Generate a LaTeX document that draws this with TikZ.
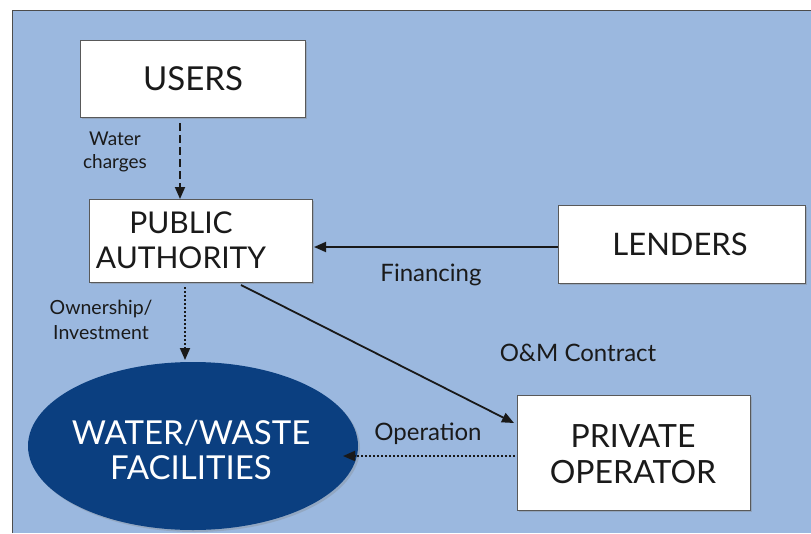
\documentclass[tikz,border=0pt]{standalone}
\usepackage{fontspec}
\setmainfont{Lato}
\usetikzlibrary{arrows.meta,shadows,shapes.geometric}
\definecolor{bgblue}{HTML}{9BB8DF}
\definecolor{navy}{HTML}{0B3F80}
\definecolor{txt}{HTML}{1A1A1A}
\begin{document}
\begin{tikzpicture}[x=1pt,y=-1pt,
  box/.style={draw=gray!70!black,line width=0.8pt,fill=white,inner sep=0pt,
     drop shadow={shadow xshift=2pt,shadow yshift=-2pt,opacity=0.35}},
  lbl/.style={text=txt,font=\fontsize{19}{23}\selectfont,align=center,inner sep=0pt},
  biglbl/.style={lbl,font=\fontsize{24}{28}\selectfont},
  arr/.style={-{Triangle[length=12pt,width=10pt]},line width=1.8pt,draw=black!90}]
\useasboundingbox (0,0) rectangle (811,533);
\fill[white] (0,0) rectangle (811,533);
\fill[bgblue] (12,10) rectangle (811,533);
\draw[gray!60!black,line width=1pt] (12,533) -- (12,10) -- (811,10);
% boxes
\node[box,minimum width=225pt,minimum height=77pt] (users) at (192.5,78.5) {};
\node[lbl,font=\fontsize{33}{36}\selectfont] (userst) at (193,79) {USERS};
\node[box,minimum width=223pt,minimum height=83pt] (pub) at (200.5,240.5) {};
\node[lbl,font=\fontsize{30}{35}\selectfont] (pubt) at (181,240) {PUBLIC\\AUTHORITY};
\node[box,minimum width=247pt,minimum height=78pt] (lend) at (681.5,244) {};
\node[lbl,font=\fontsize{31}{35}\selectfont] (lendt) at (680,244) {LENDERS};
\node[box,minimum width=233pt,minimum height=115pt] (priv) at (633.5,452.5) {};
\node[lbl,font=\fontsize{32}{36}\selectfont] (privt) at (633,454) {PRIVATE\\OPERATOR};
\node[draw=none,fill=navy,ellipse,minimum width=330pt,minimum height=168pt,inner sep=0pt,
  drop shadow={shadow xshift=2pt,shadow yshift=-2pt,opacity=0.3}] (fac) at (193,446) {};
\node[lbl,text=white,font=\fontsize{33}{35}\selectfont] (fact) at (191,450) {WATER/WASTE\\FACILITIES};
% connectors
\coordinate (u1) at (180,123);
\coordinate (p1) at (180,199);
\draw[arr,dash pattern=on 8pt off 4pt] (u1) -- (p1);
\node[lbl] (wc) at (115,152) {Water\\charges};
\coordinate (p2) at (185,287);
\coordinate (f1) at (185,360);
\draw[arr,dash pattern=on 2pt off 2pt] (p2) -- (f1);
\node[lbl,font=\fontsize{19.5}{25}\selectfont] (own) at (101,320) {Ownership/\\Investment};
\coordinate (l1) at (558,247);
\coordinate (p3) at (314,247);
\draw[arr] (l1) -- (p3);
\node[biglbl] (fin) at (431,275) {Financing};
\coordinate (p4) at (241,285);
\coordinate (o1) at (514,423);
\draw[arr] (p4) -- (o1);
\node[biglbl] (om) at (578,353) {O\&M Contract};
\coordinate (o2) at (515,456);
\coordinate (f2) at (343,456);
\draw[arr,dash pattern=on 2pt off 2pt] (o2) -- (f2);
\node[biglbl] (op) at (428,434) {Operation};
\end{tikzpicture}
\end{document}
